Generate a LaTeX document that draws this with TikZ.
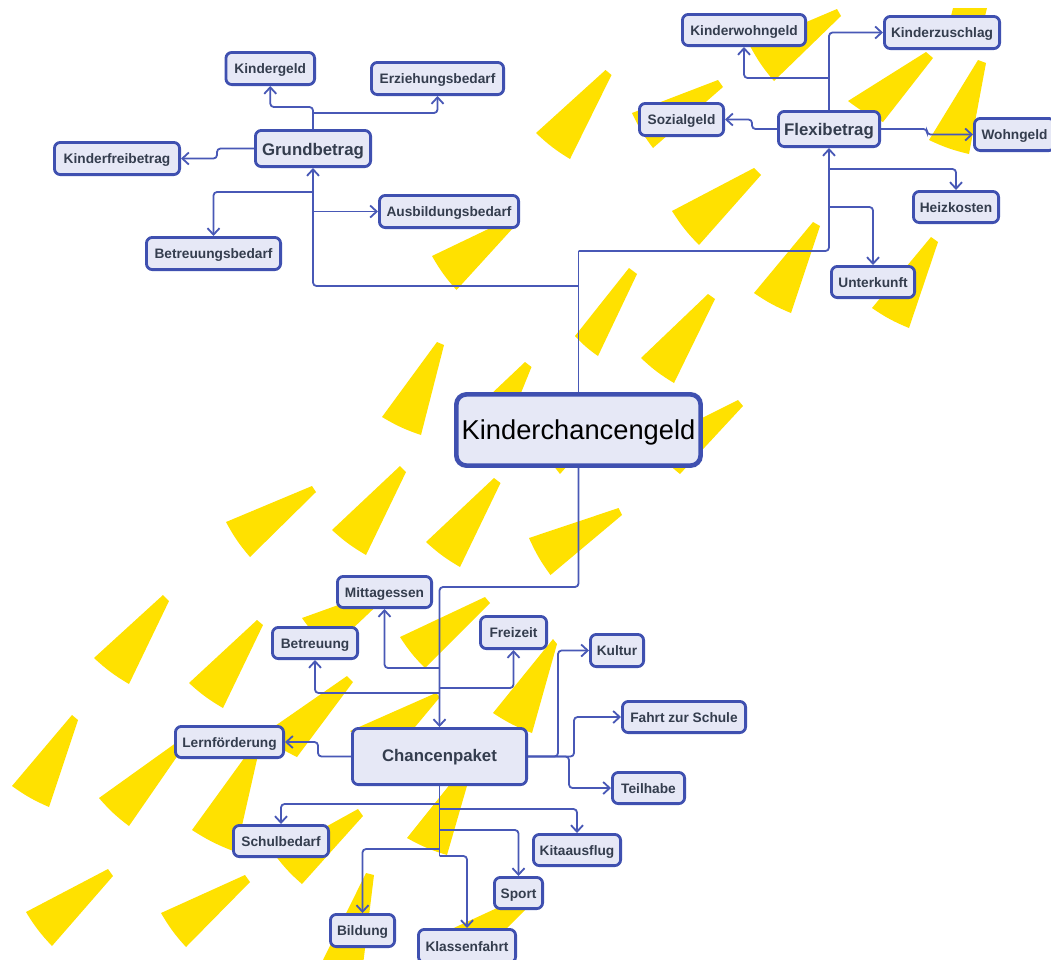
\documentclass[tikz,border=0pt]{standalone}
\usepackage{fontspec}
\setmainfont{Liberation Sans}
\usetikzlibrary{arrows.meta,calc}
\pgfdeclarelayer{sunlayer}
\pgfsetlayers{sunlayer,main}
\definecolor{sunyellow}{HTML}{FFE100}
\definecolor{edgeblue}{HTML}{3F50B0}
\definecolor{linkblue}{HTML}{4858B6}
\definecolor{boxfill}{HTML}{E6E8F6}
\definecolor{labelgrey}{HTML}{343D4E}
\tikzset{
  anybox/.style={draw=edgeblue,fill=boxfill,rounded corners=6pt,inner sep=0pt,line width=2.8pt,align=center,text depth=0pt},
  leafbox/.style={anybox,text height=10pt,text=labelgrey,font=\bfseries\fontsize{13.7}{15}\selectfont},
  midbox/.style={anybox,text height=13pt,text=labelgrey,font=\bfseries\fontsize{16.8}{19}\selectfont},
  mainbox/.style={anybox,text=black,line width=4.6pt,rounded corners=10pt,text height=18pt,font=\fontsize{27.3}{31}\selectfont},
  link/.style={draw=linkblue,line width=1.8pt,rounded corners=3.5pt},
  linkto/.style={link,-{Straight Barb[length=6.5pt,width=12pt,line width=1.8pt]}},
  sun/.style={fill=sunyellow,draw=none},
}
\newcommand\bx[6]{%
  \pgfmathsetmacro\cxx{(#3+#5)/2}\pgfmathsetmacro\cyy{(#4+#6)/2}%
  \pgfmathsetmacro\www{#5-#3-2.8}\pgfmathsetmacro\hhh{#6-#4-2.8}%
  \node[#1,minimum width=\www pt,minimum height=\hhh pt] (#2) at (\cxx,\cyy)}
\newcommand\wdg[4]{\fill[sun] #1 -- #2 -- #3 to[bend left=6] #4 -- cycle;}
\begin{document}
\begin{tikzpicture}[x=1pt,y=-1pt]
\useasboundingbox (0,0) rectangle (1051,959);
\clip (0,0) rectangle (1051,959);
\begin{pgfonlayer}{sunlayer}
\fill[white] (0,0) rectangle (1051,959);
\wdg{(605.5,70)}{(611.5,75)}{(570,159)}{(536,133)}
\wdg{(505,221)}{(513,228)}{(456.5,290)}{(432,256)}
\wdg{(837,9)}{(841,16)}{(774,81)}{(750,46)}
\fill[sun] (953,8) -- (987,8) -- (985,16) -- (951,16) -- cycle;
\wdg{(926,52)}{(933,58)}{(883,122)}{(848,101)}
\wdg{(978,60)}{(986,63)}{(969,154)}{(929,140)}
\wdg{(718,80)}{(723,87)}{(653,148)}{(632,113)}
\wdg{(754,168)}{(761,175)}{(699,245)}{(672,211)}
\wdg{(813,222)}{(820,226)}{(791,313)}{(754,293)}
\wdg{(931,237)}{(938,242)}{(909,328)}{(872,308)}
\wdg{(629,268)}{(637,274)}{(598,356)}{(575,336)}
\wdg{(708,294)}{(715,299)}{(674,383)}{(641,358)}
\wdg{(437,342)}{(444,345)}{(421,435)}{(382,417)}
\wdg{(525,362)}{(531.5,367)}{(510,420)}{(470,414)}
\fill[sun] (553,465) -- (560,474) -- (568,465) -- cycle;
\wdg{(738,400)}{(743,406)}{(680,474)}{(650,444)}
\wdg{(312,486)}{(316,492)}{(250,557)}{(226,522)}
\wdg{(400,466)}{(406,472)}{(366,555)}{(332,530)}
\wdg{(494,478)}{(500.5,483)}{(460,567)}{(426,542)}
\wdg{(618.6,508)}{(622,515)}{(550.5,575)}{(529,538)}
\wdg{(163,595)}{(169,601)}{(129,684)}{(94,658)}
\wdg{(257,620)}{(263,625)}{(223,708)}{(189,683)}
\wdg{(380,590)}{(386,597)}{(330,650)}{(302,618)}
\wdg{(347,676)}{(353,682)}{(297,757)}{(262,735)}
\wdg{(250,750)}{(258,755)}{(236,852)}{(192,830)}
\wdg{(72,715)}{(78,720)}{(49,807)}{(12,786)}
\wdg{(180,740)}{(185,745)}{(129,826)}{(99,798)}
\wdg{(358,809)}{(363,816)}{(302,884)}{(275,855)}
\wdg{(108,869)}{(113,876)}{(52,946)}{(26,912)}
\wdg{(245,875)}{(250,882)}{(186,947)}{(161,913)}
\fill[sun] (366,873) -- (374,875) -- (363,965) -- (322,962) -- cycle;
\wdg{(485,597)}{(490,603)}{(425,668)}{(400,637)}
\wdg{(553,639)}{(557,644)}{(532,733)}{(493,713)}
\wdg{(436,693)}{(440,697)}{(390,757)}{(350,731)}
\wdg{(463,768)}{(471,772)}{(447,855)}{(407,838)}
\fill[sun] (497,908) -- (527,908) -- (500,935) -- (445,932) -- cycle;
\end{pgfonlayer}
% nodes
\bx{mainbox}{root}{455}{393}{702}{467} {Kinderchancengeld};
\bx{midbox}{grund}{254}{129}{372}{168} {Grundbetrag};
\bx{midbox}{flex}{777}{110}{881}{148} {Flexibetrag};
\bx{midbox}{chance}{351}{727}{528}{786} {\raisebox{1.5pt}{Chancenpaket}};
\bx{leafbox}{kg}{224.5}{51}{316}{86} {Kindergeld};
\bx{leafbox}{erz}{370}{61}{505}{96} {Erziehungsbedarf};
\bx{leafbox}{kfb}{53}{141}{181}{176} {Kinderfreibetrag};
\bx{leafbox}{ausb}{378}{194}{520}{229} {Ausbildungsbedarf};
\bx{leafbox}{betb}{145}{236}{282}{271} {Betreuungsbedarf};
\bx{leafbox}{kwg}{681}{13}{807}{47} {Kinderwohngeld};
\bx{leafbox}{kzs}{883}{15}{1001}{50} {Kinderzuschlag};
\bx{leafbox}{sozg}{638}{102}{725}{137} {Sozialgeld};
\bx{leafbox}{wg}{973}{117}{1056}{152} {Wohngeld};
\bx{leafbox}{heiz}{912}{190}{1000}{224} {Heizkosten};
\bx{leafbox}{unt}{830}{265}{916}{299} {Unterkunft};
\bx{leafbox}{mit}{336}{575}{433}{609} {Mittagessen};
\bx{leafbox}{betr}{271}{626}{359}{660} {Betreuung};
\bx{leafbox}{frei}{479}{615}{548}{650} {Freizeit};
\bx{leafbox}{lern}{174}{725}{285}{759} {Lernförderung};
\bx{leafbox}{kult}{589}{633}{645}{668} {Kultur};
\bx{leafbox}{fahrt}{621}{700}{747}{734} {Fahrt zur Schule};
\bx{leafbox}{teil}{611}{771}{686}{805} {Teilhabe};
\bx{leafbox}{schul}{232}{824}{330}{858} {Schulbedarf};
\bx{leafbox}{kita}{532}{833}{622}{867} {Kitaausflug};
\bx{leafbox}{sport}{493}{876}{544}{910} {Sport};
\bx{leafbox}{bild}{329}{913}{396}{948} {Bildung};
\bx{leafbox}{klass}{417}{928}{517}{964} {Klassenfahrt};
% junctions
\coordinate (rootup) at (578.5,286);
\coordinate (rootflex) at (578.5,251);
\coordinate (g1) at (313,107);
\coordinate (g2) at (313,113);
\coordinate (g3) at (313,192);
\coordinate (g4) at (313,211.5);
\coordinate (f1) at (829,78);
\coordinate (f2) at (829,169);
\coordinate (f3) at (829,207);
\coordinate (rootdown) at (578.5,587);
\coordinate (c1) at (439.5,668);
\coordinate (c2) at (439.5,688);
\coordinate (c3) at (439.5,693);
\coordinate (c4) at (439.5,804);
\coordinate (c5) at (439.5,809);
\coordinate (c6) at (439.5,830);
\coordinate (c7) at (439.5,849);
\coordinate (c8) at (439.5,856);
\coordinate (c9) at (558,756.5);
\coordinate (c10) at (574,756.5);
\coordinate (c11) at (569,756.5);
% connectors
\draw[link] (root.north) -- (rootflex);
\draw[linkto] (rootup) -| (grund.south);
\draw[linkto] (rootflex) -| (flex.south);
\draw[linkto] (root.south) -- (rootdown) -| (chance.north);
\draw[linkto] (grund.north) -- (g1) -| (kg.south);
\draw[linkto] (g2) -| (erz.south);
\draw[linkto] (grund.west) -- ++(-37,0) |- (kfb.east);
\draw[linkto] (g3) -| (betb.north);
\draw[linkto] (g4) -- (ausb.west);
\draw[linkto] (flex.north) |- (kzs.west);
\draw[linkto] (f1) -| (kwg.south);
\draw[linkto] (flex.west) -- ++(-25,0) |- (sozg.east);
\draw[linkto] (flex.east) -- ++(46,0) |- (wg.west);
\draw[linkto] (f2) -| (heiz.north);
\draw[linkto] (f3) -| (unt.north);
\draw[linkto] (c1) -| (mit.south);
\draw[linkto] (c2) -| (frei.south);
\draw[linkto] (c3) -| (betr.south);
\draw[linkto] (chance.west) -- ++(-33,0) |- (lern.east);
\draw[linkto] (chance.east) -- (c9) |- (kult.west);
\draw[linkto] (chance.east) -- (c10) |- (fahrt.west);
\draw[linkto] (chance.east) -- (c11) |- (teil.west);
\draw[link] (chance.south) -- (c8);
\draw[linkto] (c4) -| (schul.north);
\draw[linkto] (c5) -| (kita.north);
\draw[linkto] (c6) -| (sport.north);
\draw[linkto] (c7) -| (bild.north);
\draw[linkto] (c8) -| (klass.north);
\end{tikzpicture}
\end{document}
